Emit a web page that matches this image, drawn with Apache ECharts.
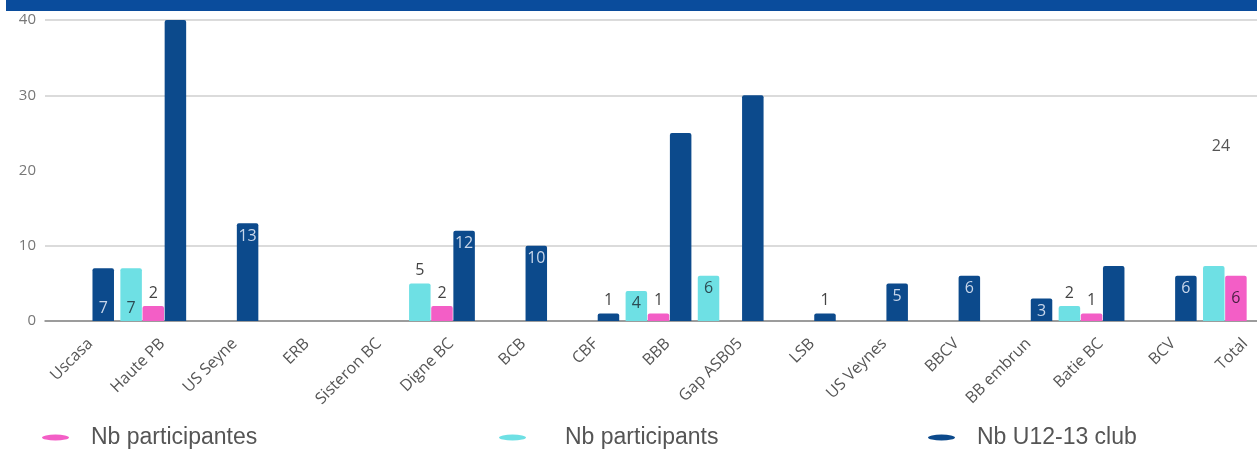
<!DOCTYPE html>
<html>
<head>
<meta charset="utf-8">
<script src="https://cdn.jsdelivr.net/npm/echarts@6/dist/echarts.min.js"></script>
<style>
html,body{margin:0;padding:0;background:#fff;overflow:hidden;}
#c{width:1272px;height:449px;}
</style>
</head>
<body>
<div id="c"></div>
<script>
// ---- data ----
const categories = ['Uscasa','Haute PB','US Seyne','ERB','Sisteron BC','Digne BC','BCB','CBF','BBB','Gap ASB05','LSB','US Veynes','BBCV','BB embrun','Batie BC','BCV','Total'];
const participants  = [null, 7, null, null, null, 5, null, null, 4, 6, null, null, null, null, 2, null, 7.3];
const participantes = [null, 2, null, null, null, 2, null, null, 1, null, null, null, null, null, 1, null, 6];
const u12club       = [7, 40, 13, null, null, 12, 10, 1, 25, 30, 1, 5, 6, 3, 7.3, 6, null];
const totalClubLabel = 24;
const yTicks = [0, 10, 20, 30, 40];
const legendNames = ['Nb participantes', 'Nb participants', 'Nb U12-13 club'];

// ---- label placement (style config) ----
const labelPos = {
  participants: {'Haute PB':'insideBottom','Digne BC':'top','BBB':'insideTop','Gap ASB05':'insideTop','Batie BC':'top'},
  participantes: {'Haute PB':'top','Digne BC':'top','BBB':'top','Batie BC':'top','Total':'inside'},
  u12: {'Uscasa':'insideBottom','US Seyne':'insideTop','Digne BC':'insideTop','BCB':'insideTop','CBF':'top','LSB':'top','US Veynes':'insideTop','BBCV':'insideTop','BB embrun':'insideTop','BCV':'insideTop'}
};
const COLORS = {participants:'#6ee0e4', participantes:'#f35ec6', u12:'#0c4a8c'};
const insideColor = {participants:'#2c4c54', participantes:'#4a1f42', u12:'#c8d6ea'};

function build(key, values){
  return values.map((v, i) => {
    const pos = labelPos[key][categories[i]];
    const item = {value: v};
    if (pos) {
      item.label = {show:true, position:pos,
        color: pos === 'top' ? '#444' : insideColor[key]};
    } else {
      item.label = {show:false};
    }
    return item;
  });
}

const labelFont = {fontFamily:'Open Sans', fontSize:16};

const chart = echarts.init(document.getElementById('c'), null, {renderer:'canvas'});
const option = {
  backgroundColor:'#fff',
  animation:false,
  graphic:[
    {id:'band', type:'rect', left:6, top:0, shape:{width:1266, height:11}, style:{fill:'#0a4c9c'}, z:100}
  ],
  legend:[
    {data:[legendNames[0]], left:37, top:421, pad:17},
    {data:[legendNames[1]], left:494, top:421, pad:34},
    {data:[legendNames[2]], left:923, top:421, pad:17}
  ].map(l => {
    const pad = l.pad; delete l.pad;
    return Object.assign(l, {
      itemWidth:27, itemHeight:6, selectedMode:false,
      icon:'path://M0,3a13.5,3 0 1,0 27,0a13.5,3 0 1,0 -27,0z',
      textStyle:{fontFamily:'Liberation Sans', fontSize:23, color:'#555', padding:[0,0,0,pad]}
    });
  }),
  grid:{left:45, right:0, top:20, bottom:128, containLabel:false},
  xAxis:{
    type:'category', data:categories,
    axisLine:{show:true, lineStyle:{color:'#888', width:1.5}},
    axisTick:{show:false},
    axisLabel:{interval:0, rotate:45, margin:18, verticalAlign:'top', padding:[0,-5,0,0], color:'#555', fontFamily:'Open Sans', fontSize:16}
  },
  yAxis:{
    type:'value', min:yTicks[0], max:yTicks[yTicks.length-1], interval:10,
    axisLine:{show:false}, axisTick:{show:false},
    axisLabel:{color:'#777', fontFamily:'Open Sans', fontSize:15, margin:9},
    splitLine:{show:true, lineStyle:{color:['#cfcfcf','#cfcfcf','rgba(0,0,0,0)','#cfcfcf','#cfcfcf'], width:1.5}}
  },
  series:[
    {name:legendNames[1], type:'bar', data:build('participants', participants), barWidth:21.5, barGap:'3%',
      itemStyle:{color:COLORS.participants, borderRadius:[2,2,0,0]}, label:labelFont},
    {name:legendNames[0], type:'bar', data:build('participantes', participantes), barWidth:21.5, barGap:'3%',
      itemStyle:{color:COLORS.participantes, borderRadius:[2,2,0,0]}, label:labelFont},
    {name:legendNames[2], type:'bar', data:build('u12', u12club), barWidth:21.5, barGap:'3%',
      itemStyle:{color:COLORS.u12, borderRadius:[2,2,0,0]}, label:labelFont}
  ]
};
chart.setOption(option);
// floating total label placed through the axis scales
const p = chart.convertToPixel({xAxisIndex:0, yAxisIndex:0}, ['Total', totalClubLabel]);
chart.setOption({graphic:[{id:'total24', type:'text', x:p[0]-15, y:p[1]+6,
  style:{text:String(totalClubLabel), fill:'#555', font:'16px "Open Sans"', align:'center', verticalAlign:'middle'}}]});
</script>
</body>
</html>
